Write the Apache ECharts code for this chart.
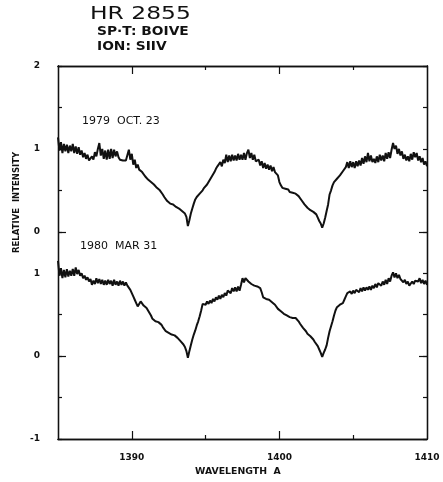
<!DOCTYPE html>
<html>
<head>
<meta charset="utf-8">
<script src="https://cdn.jsdelivr.net/npm/echarts@6/dist/echarts.min.js"></script>
<style>html,body{margin:0;padding:0;background:#fff}#c{width:443px;height:482px}</style>
</head>
<body>
<div id="c"></div>
<script>
// Wavelength grid: start 1385.0 A, step 0.1 A (251 samples)
var lambdaStart = 1385.0;
var lambdaStep = 0.1;

// Relative intensity, 1979 Oct 23 (upper spectrum)
var spec1979 = [
1.14,0.98,1.08,0.95,1.06,0.97,1.05,0.95,1.04,0.97,
1.06,0.95,1.03,0.94,1.02,0.93,0.98,0.90,0.95,0.88,
0.93,0.86,0.85,0.91,0.87,0.96,0.91,1.00,1.07,0.92,
1.00,0.88,0.98,0.87,0.99,0.88,1.00,0.89,0.99,0.91,
0.97,0.90,0.87,0.87,0.86,0.87,0.86,0.88,0.99,0.87,
0.94,0.81,0.87,0.77,0.81,0.75,0.77,0.72,0.70,0.67,
0.65,0.63,0.62,0.60,0.59,0.57,0.56,0.53,0.51,0.50,
0.48,0.45,0.42,0.40,0.37,0.36,0.34,0.35,0.33,0.31,
0.30,0.28,0.28,0.27,0.25,0.24,0.22,0.18,0.07,0.14,
0.22,0.28,0.34,0.39,0.42,0.44,0.46,0.47,0.50,0.53,
0.54,0.57,0.60,0.63,0.66,0.68,0.72,0.76,0.79,0.78,
0.84,0.79,0.87,0.83,0.93,0.84,0.92,0.85,0.93,0.86,
0.92,0.86,0.94,0.87,0.93,0.87,0.95,0.87,0.95,0.99,
0.89,0.95,0.87,0.93,0.85,0.85,0.87,0.80,0.85,0.77,
0.83,0.76,0.81,0.75,0.80,0.73,0.78,0.72,0.74,0.68,
0.60,0.56,0.53,0.54,0.52,0.50,0.51,0.48,0.49,0.47,
0.47,0.46,0.44,0.43,0.41,0.38,0.36,0.33,0.31,0.29,
0.28,0.26,0.25,0.24,0.23,0.21,0.17,0.13,0.10,0.05,
0.10,0.17,0.25,0.33,0.45,0.50,0.56,0.60,0.62,0.64,
0.66,0.68,0.70,0.73,0.75,0.78,0.84,0.77,0.85,0.78,
0.84,0.77,0.85,0.79,0.86,0.80,0.89,0.82,0.91,0.84,
0.95,0.85,0.92,0.84,0.88,0.83,0.91,0.84,0.93,0.86,
0.92,0.85,0.95,0.88,0.96,0.89,0.99,1.07,1.00,1.04,
0.94,1.00,0.92,0.97,0.88,0.93,0.86,0.91,0.85,0.94,
0.87,0.96,0.90,0.95,0.86,0.91,0.84,0.89,0.81,0.85,
0.79
];

// Relative intensity, 1980 Mar 31 (lower spectrum)
var spec1980 = [
1.15,0.97,1.06,0.94,1.04,0.95,1.05,0.96,1.03,0.97,
1.05,0.97,1.07,0.99,1.04,0.97,1.00,0.94,0.97,0.92,
0.95,0.90,0.93,0.86,0.91,0.87,0.94,0.88,0.93,0.87,
0.92,0.86,0.91,0.86,0.92,0.87,0.91,0.85,0.92,0.86,
0.90,0.85,0.91,0.86,0.90,0.85,0.89,0.85,0.83,0.80,
0.76,0.72,0.68,0.64,0.60,0.63,0.66,0.64,0.61,0.60,
0.58,0.56,0.52,0.49,0.45,0.44,0.42,0.43,0.41,0.40,
0.38,0.35,0.33,0.30,0.29,0.28,0.27,0.26,0.25,0.25,
0.24,0.22,0.20,0.18,0.16,0.14,0.11,0.06,-0.02,0.06,
0.13,0.20,0.26,0.31,0.37,0.42,0.48,0.55,0.63,0.64,
0.62,0.66,0.63,0.67,0.64,0.69,0.66,0.71,0.68,0.73,
0.69,0.74,0.71,0.76,0.73,0.79,0.80,0.76,0.82,0.78,
0.83,0.78,0.84,0.79,0.86,0.94,0.89,0.94,0.95,0.90,
0.91,0.87,0.89,0.85,0.86,0.84,0.83,0.82,0.77,0.71,
0.70,0.69,0.67,0.68,0.66,0.65,0.65,0.62,0.60,0.57,
0.55,0.54,0.53,0.51,0.50,0.49,0.48,0.47,0.47,0.46,
0.47,0.46,0.45,0.42,0.39,0.37,0.34,0.32,0.30,0.27,
0.26,0.24,0.22,0.20,0.17,0.15,0.12,0.08,0.04,-0.01,
0.04,0.08,0.13,0.22,0.30,0.36,0.42,0.49,0.55,0.59,
0.60,0.62,0.63,0.64,0.68,0.72,0.76,0.74,0.78,0.75,
0.79,0.76,0.80,0.80,0.77,0.82,0.78,0.83,0.79,0.83,
0.80,0.84,0.80,0.85,0.82,0.87,0.83,0.88,0.89,0.85,
0.90,0.86,0.92,0.87,0.94,0.90,0.97,1.01,0.95,1.00,
0.94,0.98,0.93,0.94,0.89,0.92,0.87,0.90,0.85,0.87,
0.90,0.87,0.91,0.93,0.90,0.94,0.88,0.92,0.87,0.91,
0.86
];

// Vertical offset of the upper spectrum (its zero sits at 1.5 on the common scale)
var offset1979 = 1.5;

// Axis tick labels
var xLabelValues = [1390, 1400, 1410];
var xMajorTicks = [1390, 1400];
var xMinorTicks = [1395, 1405];
var yLabelValues = [-1, 0, 1, 1.5, 2.5, 3.5];
var yLabelTexts = ['-1', '0', '1', '0', '1', '2'];
var yLongTicks = [0, 1.5];

function build(arr, off) {
  var out = [];
  for (var i = 0; i < arr.length; i++) {
    out.push([Math.round((lambdaStart + i * lambdaStep) * 10) / 10, arr[i] + off]);
  }
  return out;
}

var chart = echarts.init(document.getElementById('c'));
var ink = '#111';
var tickFont = {color: ink, fontSize: 9, fontWeight: 'bold', fontFamily: 'DejaVu Sans'};

function xAx(pos, ticks, len, labels) {
  return {
    type: 'value', position: pos, min: 1385, max: 1410, interval: 5,
    axisLine: {show: true, onZero: false, lineStyle: {color: ink, width: 1.3}},
    axisTick: {show: true, inside: true, length: len, customValues: ticks, lineStyle: {color: ink, width: 1.2}},
    axisLabel: labels ? Object.assign({show: true, margin: 14, customValues: xLabelValues,
      formatter: function (v) { return xLabelValues.indexOf(v) >= 0 ? String(v) : ''; }}, tickFont) : {show: false},
    splitLine: {show: false}
  };
}
function yAx(pos, ticks, len, labels) {
  var o = {
    type: 'value', position: pos, min: -1, max: 3.5, interval: 0.5,
    axisLine: {show: true, onZero: false, lineStyle: {color: ink, width: 1.3}},
    axisTick: {show: true, inside: true, length: len, lineStyle: {color: ink, width: 1.2}},
    axisLabel: labels ? Object.assign({show: true, margin: 18,
      formatter: function (v) {
        for (var k = 0; k < yLabelValues.length; k++) if (Math.abs(yLabelValues[k] - v) < 1e-6) return yLabelTexts[k];
        return '';
      }}, tickFont) : {show: false},
    splitLine: {show: false}
  };
  if (ticks) o.axisTick.customValues = ticks;
  return o;
}

chart.setOption({
  animation: false,
  backgroundColor: '#fff',
  grid: {left: 58, right: 16, top: 66, bottom: 43},
  xAxis: [
    xAx('bottom', xMajorTicks, 8, true),
    xAx('bottom', xMinorTicks, 4, false),
    xAx('top', xMajorTicks, 8, false),
    xAx('top', xMinorTicks, 4, false)
  ],
  yAxis: [
    yAx('left', null, 4, true),
    yAx('left', yLongTicks, 8, false),
    yAx('right', null, 4, false),
    yAx('right', yLongTicks, 8, false)
  ],
  graphic: [
    {type: 'text', left: 90, top: 5, scaleX: 1.3, style: {text: 'HR 2855', fontSize: 18, fontFamily: 'DejaVu Sans', fontWeight: 'normal', fill: ink}},
    {type: 'text', left: 97, top: 26, scaleX: 1.15, style: {text: 'SP·T: BOIVE', fontSize: 12, fontFamily: 'DejaVu Sans', fontWeight: 'bold', fill: ink}},
    {type: 'text', left: 97, top: 41, scaleX: 1.15, style: {text: 'ION: SIIV', fontSize: 12, fontFamily: 'DejaVu Sans', fontWeight: 'bold', fill: ink}},
    {type: 'text', left: 82, top: 116, style: {text: '1979  OCT. 23', fontSize: 11, fontFamily: 'DejaVu Sans', fill: ink}},
    {type: 'text', left: 80, top: 241, style: {text: '1980  MAR 31', fontSize: 11, fontFamily: 'DejaVu Sans', fill: ink}},
    {type: 'text', x: 12, y: 253, rotation: Math.PI / 2, style: {text: 'RELATIVE  INTENSITY', fontSize: 8.5, fontFamily: 'DejaVu Sans', fontWeight: 'bold', fill: ink, align: 'left', verticalAlign: 'top'}},
    {type: 'text', left: 195, top: 467, scaleX: 1.1, style: {text: 'WAVELENGTH  A', fontSize: 8.5, fontFamily: 'DejaVu Sans', fontWeight: 'bold', fill: ink}}
  ],
  series: [
    {name: '1979 OCT. 23', type: 'line', data: build(spec1979, offset1979), showSymbol: false, symbol: 'none',
     lineStyle: {color: ink, width: 2}, xAxisIndex: 0, yAxisIndex: 0},
    {name: '1980 MAR 31', type: 'line', data: build(spec1980, 0), showSymbol: false, symbol: 'none',
     lineStyle: {color: ink, width: 2}, xAxisIndex: 0, yAxisIndex: 0}
  ]
});
</script>
</body>
</html>
